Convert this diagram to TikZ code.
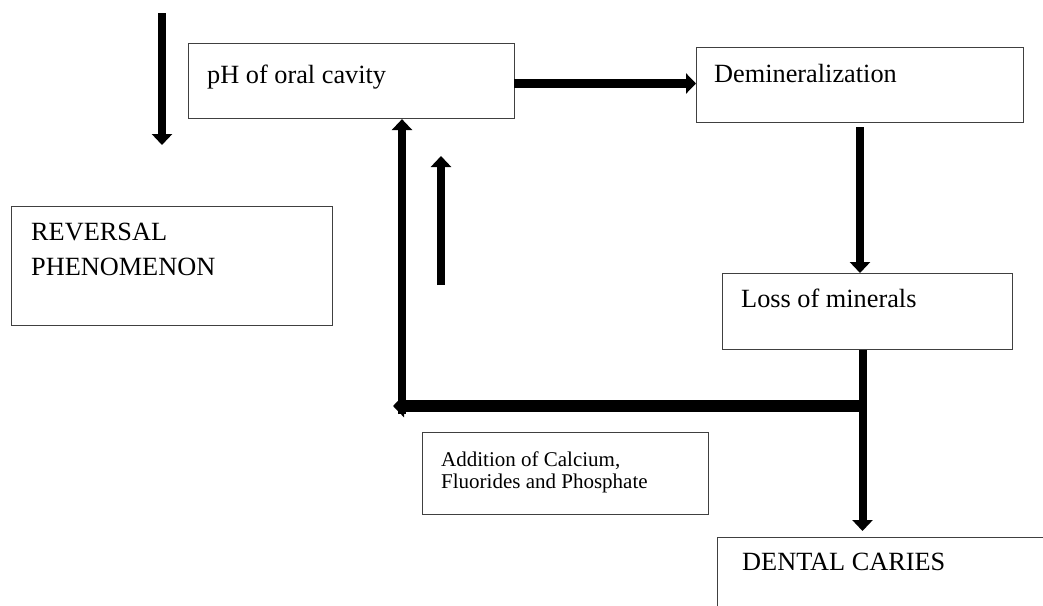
\documentclass[tikz,border=0pt]{standalone}
\usepackage{fontspec}
\setmainfont{Liberation Serif}
\usetikzlibrary{arrows.meta}
\begin{document}
\begin{tikzpicture}[x=1pt,y=-1pt,
  box/.style={draw=black!75, line width=1.1pt, inner sep=0pt, anchor=north west},
  lbl/.style={font=\fontsize{26.3}{35}\selectfont, anchor=base west, inner sep=0pt, align=left},
  small/.style={font=\fontsize{21}{21.6}\selectfont, anchor=base west, inner sep=0pt, align=left},
  fat/.style={line width=8pt, -{Triangle[width=20pt,length=11pt]}},
  fatter/.style={line width=11.5pt, -{Triangle[width=22pt,length=11pt]}}
]
\clip (0,0) rectangle (1043,605);
\fill[white] (0,0) rectangle (1043,605);
% boxes
\node[box, minimum width=326pt, minimum height=75pt] (ph) at (188,43) {};
\node[box, minimum width=327pt, minimum height=75pt] (dem) at (696,47) {};
\node[box, minimum width=321pt, minimum height=119pt] (rev) at (11,206) {};
\node[box, minimum width=290pt, minimum height=76pt] (loss) at (722,273) {};
\node[box, minimum width=286pt, minimum height=82pt] (add) at (422,432) {};
\node[box, minimum width=400pt, minimum height=120pt] (car) at (717,537) {};
% texts
\node[lbl] (phT) at (207,83) {pH of oral cavity};
\node[lbl] (demT) at (714,82) {Demineralization};
\node[lbl] (revT) at (31,275) {REVERSAL\\PHENOMENON};
\node[lbl] (lossT) at (741,307) {Loss of minerals};
\node[small] (addT) at (441,488) {Addition of Calcium,\\Fluorides and Phosphate};
\node[lbl] (carT) at (742,570) {DENTAL CARIES};
% free coordinates
\coordinate (d1) at (162,13);
\coordinate (d2) at (162,145);
\coordinate (u1) at (441,285);
\coordinate (u2) at (441,156);
\coordinate (j) at (862.5,406);
\coordinate (jl) at (393,406);
\coordinate (jv) at (402,414);
\coordinate (dd) at (860,127);
\coordinate (pa) at (514,83.5);
% connectors
\draw[fat] (d1) -- (d2);
\draw[line width=9pt, -{Triangle[width=20pt,length=10pt]}] (pa) -- (pa -| dem.west);
\draw[fat] (dd) -- (dd |- loss.north) ;
\draw[line width=8pt] (j |- loss.south) -- (j);
\draw[fat, shorten >=6pt] (j) -- (j |- car.north);
\draw[fatter] ([xshift=4pt]j) -- (jl);
\draw[fat] (jv) -- (jv |- ph.south);
\draw[fat] (u1) -- (u2);
\end{tikzpicture}
\end{document}
